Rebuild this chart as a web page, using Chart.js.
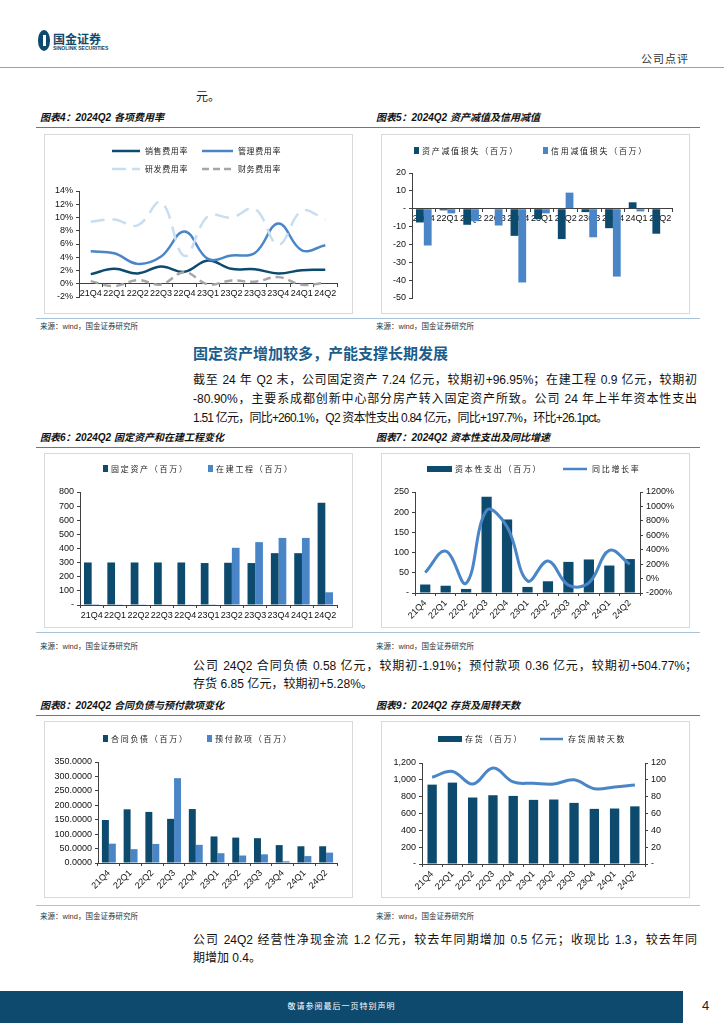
<!DOCTYPE html>
<html>
<head>
<meta charset="utf-8">
<script src="https://cdn.jsdelivr.net/npm/chart.js@4.4.1/dist/chart.umd.min.js"></script>
<style>
  body { margin: 0; background: #fff; }
  #page { position: relative; width: 724px; height: 1024px; overflow: hidden;
          font-family: "Liberation Sans", "Noto Sans CJK SC", sans-serif; color: #222; }
  .abs { position: absolute; white-space: nowrap; }
  .figtitle { font-size: 10px; line-height: 14px; font-weight: bold; font-style: italic; color: #111; }
  .src { font-size: 7.5px; line-height: 10px; color: #333; }
  .rule { position: absolute; height: 0; }
  .frame { position: absolute; border: 1px solid #d9d9d9; box-sizing: border-box; }
  .frame canvas { position: absolute; left: -1px; top: -1px; }
  .pl { position: absolute; left: 193px; width: 504px; font-size: 12px; line-height: 16px;
        white-space: nowrap; color: #111; }
  .just { text-align: justify; text-align-last: justify; }
  .leg { position: absolute; font-size: 8px; line-height: 10px; color: #222; white-space: nowrap;
         font-family: "Noto Sans CJK SC", sans-serif; }
</style>
</head>
<body>
<div id="page">
  <!-- header -->
  <div class="abs" style="left:38px;top:30px;width:12px;height:21px;border-radius:6px/10px;background:#0d4a6e;"></div>
  <div class="abs" style="left:43px;top:35px;width:3px;height:11px;background:#fff;"></div>
  <div class="abs" style="left:53px;top:32px;font-size:12px;line-height:13px;font-weight:bold;color:#0d4a6e;font-family:'Noto Sans CJK SC';">国金证券</div>
  <div class="abs" style="left:53px;top:46px;font-size:5px;line-height:5px;font-weight:bold;color:#0d4a6e;">SINOLINK SECURITIES</div>
  <div class="abs" style="left:641px;top:51px;font-size:11px;line-height:14px;color:#333;font-family:'Noto Sans CJK SC';letter-spacing:1px;">公司点评</div>
  <div class="rule" style="left:0;top:67px;width:724px;border-top:1px solid #8aa6bc;"></div>

  <div class="abs" style="left:196px;top:89px;font-size:12px;line-height:14px;font-family:'Noto Sans CJK SC';">元。</div>

  <!-- row 1 -->
  <div class="abs figtitle" style="left:40px;top:111px;">图表4：2024Q2 各项费用率</div>
  <div class="abs figtitle" style="left:376px;top:111px;">图表5：2024Q2 资产减值及信用减值</div>
  <div class="rule" style="left:36px;top:127px;width:664px;border-top:1.5px solid #4f7fa6;"></div>
  <div class="frame" style="left:44px;top:134px;width:309px;height:180px;"><canvas id="c4" width="309" height="180"></canvas></div>
  <div class="frame" style="left:381px;top:134px;width:309px;height:180px;"><canvas id="c5" width="309" height="180"></canvas></div>
  <div class="rule" style="left:36px;top:318px;width:664px;border-top:1px solid #a9c4d8;"></div>
  <div class="abs src" style="left:40px;top:322px;">来源：wind，国金证券研究所</div>
  <div class="abs src" style="left:376px;top:322px;">来源：wind，国金证券研究所</div>

  <div class="abs" style="left:193px;top:344px;font-size:15px;line-height:18px;font-weight:bold;color:#1b5c8a;font-family:'Noto Sans CJK SC';">固定资产增加较多，产能支撑长期发展</div>
  <div class="pl just" style="top:372px;">截至 24 年 Q2 末，公司固定资产 7.24 亿元，较期初+96.95%；在建工程 0.9 亿元，较期初</div>
  <div class="pl just" style="top:391px;">-80.90%，主要系成都创新中心部分房产转入固定资产所致。公司 24 年上半年资本性支出</div>
  <div class="pl" style="top:410px;width:auto;" data-fit="414">1.51 亿元，同比+260.1%，Q2 资本性支出 0.84 亿元，同比+197.7%，环比+26.1pct。</div>

  <!-- row 2 -->
  <div class="abs figtitle" style="left:40px;top:431px;">图表6：2024Q2 固定资产和在建工程变化</div>
  <div class="abs figtitle" style="left:376px;top:431px;">图表7：2024Q2 资本性支出及同比增速</div>
  <div class="rule" style="left:36px;top:447px;width:664px;border-top:1.5px solid #4f7fa6;"></div>
  <div class="frame" style="left:44px;top:453px;width:309px;height:175px;"><canvas id="c6" width="309" height="175"></canvas></div>
  <div class="frame" style="left:381px;top:453px;width:309px;height:175px;"><canvas id="c7" width="309" height="175"></canvas></div>
  <div class="rule" style="left:36px;top:632px;width:664px;border-top:1px solid #a9c4d8;"></div>
  <div class="abs src" style="left:40px;top:642px;">来源：wind，国金证券研究所</div>
  <div class="abs src" style="left:376px;top:642px;">来源：wind，国金证券研究所</div>

  <div class="pl just" style="top:658px;">公司 24Q2 合同负债 0.58 亿元，较期初-1.91%；预付款项 0.36 亿元，较期初+504.77%；</div>
  <div class="pl" style="top:676px;width:auto;" data-fit="180">存货 6.85 亿元，较期初+5.28%。</div>

  <!-- row 3 -->
  <div class="abs figtitle" style="left:40px;top:699px;">图表8：2024Q2 合同负债与预付款项变化</div>
  <div class="abs figtitle" style="left:376px;top:699px;">图表9：2024Q2 存货及周转天数</div>
  <div class="rule" style="left:36px;top:715px;width:664px;border-top:1.5px solid #4f7fa6;"></div>
  <div class="frame" style="left:44px;top:721px;width:309px;height:177px;"><canvas id="c8" width="309" height="177"></canvas></div>
  <div class="frame" style="left:381px;top:721px;width:309px;height:177px;"><canvas id="c9" width="309" height="177"></canvas></div>
  <div class="rule" style="left:36px;top:905px;width:664px;border-top:1px solid #a9c4d8;"></div>
  <div class="abs src" style="left:40px;top:912px;">来源：wind，国金证券研究所</div>
  <div class="abs src" style="left:376px;top:912px;">来源：wind，国金证券研究所</div>

  <div class="pl just" style="top:932px;">公司 24Q2 经营性净现金流 1.2 亿元，较去年同期增加 0.5 亿元；收现比 1.3，较去年同</div>
  <div class="pl" style="top:950px;">期增加 0.4。</div>

  <!-- footer -->
  <div class="abs" style="left:0;top:991px;width:683px;height:32px;background:#0d4a6e;"></div>
  <div class="abs" style="left:0;top:1001px;width:683px;text-align:center;font-size:8px;line-height:10px;color:#fff;font-family:'Noto Sans CJK SC';letter-spacing:1px;">敬请参阅最后一页特别声明</div>
  <div class="abs" style="left:702px;top:998px;font-size:13px;line-height:15px;color:#222;">4</div>

  <div id="legends"></div>
</div>

<script>
// 数据
const quarters = ['21Q4', '22Q1', '22Q2', '22Q3', '22Q4', '23Q1', '23Q2', '23Q3', '23Q4', '24Q1', '24Q2'];

// 图表4 各项费用率 (%)
const sellRate = [1.45, 2.25, 1.55, 2.6, 1.8, 3.5, 2.25, 2.2, 1.55, 2.05, 2.1];
const mgmtRate = [4.9, 4.6, 3.0, 4.1, 7.9, 3.75, 4.25, 4.65, 9.1, 5.05, 5.8];
const rdRate   = [9.35, 9.7, 8.8, 12.3, 4.2, 10.2, 10.0, 11.3, 5.9, 11.0, 9.7];
const finRate  = [0.4, -0.35, 0.55, -0.1, 1.75, -0.1, 0.5, 0.3, 1.0, -0.15, 0.15];

// 图表5 资产减值 / 信用减值 (百万)
const assetImpair  = [-7.7, -0.9, -9.0, 0, -15.2, -5.8, -17.0, -1.9, -10.9, 3.6, -14.0];
const creditImpair = [-20.6, -2.6, -7.0, -9.4, -41.3, -2.6, 9.0, -16.0, -38.0, -1.5, 0.3];

// 图表6 固定资产 / 在建工程 (百万)
const fixedAssets = [301, 301, 301, 301, 301, 297, 299, 297, 367, 367, 724];
const constructionInProgress = [1, 2, 2, 3, 3, 5, 405, 445, 475, 475, 90];

// 图表7 资本性支出 (百万) / 同比增长率 (%)
const capex    = [21, 18, 10, 238, 182, 15, 29, 77, 83, 68, 84];
const capexYoy = [83, 380, -64, 945, 720, -32, 243, -90, -60, 390, 197.7];

// 图表8 合同负债 / 预付款项 (百万)
const contractLiab = [149, 186, 177, 153, 187, 92, 88, 86, 62, 58, 58];
const prepayments  = [67, 48, 66, 294, 63, 34, 26, 30, 6, 24, 36];

// 图表9 存货 (百万) / 存货周转天数
const inventory = [943, 967, 790, 817, 809, 762, 766, 726, 655, 659, 685];
const inventoryDays = [103, 110, 95, 114, 97.5, 96, 95, 100, 89.5, 91.5, 94];

const DARK = '#0c4a6e';
const MID = '#4a86c7';
const PALE = '#c7ddf1';
const GRAY = '#a6a6a6';
const AXIS = '#404040';
const tickFont = { family: '"Liberation Sans", Arial, sans-serif', size: 9 };

Chart.defaults.animation = false;
Chart.defaults.responsive = false;
Chart.defaults.color = '#111';

const fixW = w => scale => { scale.width = w; };
const fixH = h => scale => { scale.height = h; };
const dashZero = v => (v === 0 ? '-' : v);

function yAxis(min, max, step, cb, width, extra) {
    return Object.assign({
        min: min, max: max,
        ticks: { stepSize: step, callback: cb, font: tickFont, padding: 3, autoSkip: false },
        grid: { drawOnChartArea: false, tickLength: 3, color: AXIS },
        border: { color: AXIS },
        afterFit: fixW(width)
    }, extra || {});
}

function xAxis(extra, tickExtra) {
    return Object.assign({
        offset: true,
        grid: { offset: true, drawOnChartArea: false, tickLength: 3, color: AXIS },
        border: { color: AXIS },
        ticks: Object.assign({ font: tickFont, autoSkip: false, maxRotation: 0, minRotation: 0, padding: 2 }, tickExtra || {})
    }, extra || {});
}

const basePlugins = { legend: { display: false }, tooltip: { enabled: false } };

// 图表4
new Chart(document.getElementById('c4'), {
    type: 'line',
    data: {
        labels: quarters,
        datasets: [
            { label: '销售费用率', data: sellRate, borderColor: DARK, borderWidth: 2.5, order: 4 },
            { label: '管理费用率', data: mgmtRate, borderColor: MID, borderWidth: 2.5, order: 3 },
            { label: '研发费用率', data: rdRate, borderColor: PALE, borderWidth: 2.5, borderDash: [14, 8], order: 2 },
            { label: '财务费用率', data: finRate, borderColor: GRAY, borderWidth: 2.5, borderDash: [8, 5], order: 1 }
        ]
    },
    options: {
        elements: { point: { radius: 0 }, line: { tension: 0.4 } },
        layout: { padding: { top: 57, right: 16, bottom: 17, left: 0 } },
        plugins: basePlugins,
        scales: {
            x: xAxis({ position: { y: 0 } }, { padding: 1 }),
            y: yAxis(-2, 14, 2, v => v + '%', 35)
        }
    }
});

// 图表5
new Chart(document.getElementById('c5'), {
    type: 'bar',
    data: {
        labels: quarters,
        datasets: [
            { label: '资产减值损失（百万）', data: assetImpair, backgroundColor: DARK },
            { label: '信用减值损失（百万）', data: creditImpair, backgroundColor: MID }
        ]
    },
    options: {
        categoryPercentage: 0.66, barPercentage: 1,
        layout: { padding: { top: 39, right: 18, bottom: 16, left: 0 } },
        plugins: basePlugins,
        scales: {
            x: xAxis({ position: { y: 0 } }, { padding: 1 }),
            y: yAxis(-50, 20, 10, dashZero, 31)
        }
    }
});

// 图表6
new Chart(document.getElementById('c6'), {
    type: 'bar',
    data: {
        labels: quarters,
        datasets: [
            { label: '固定资产（百万）', data: fixedAssets, backgroundColor: DARK },
            { label: '在建工程（百万）', data: constructionInProgress, backgroundColor: MID }
        ]
    },
    options: {
        categoryPercentage: 0.66, barPercentage: 1,
        layout: { padding: { top: 39, right: 16, bottom: 0, left: 0 } },
        plugins: basePlugins,
        scales: {
            x: xAxis({ afterFit: fixH(23) }),
            y: yAxis(0, 800, 100, dashZero, 36)
        }
    }
});

// 图表7
new Chart(document.getElementById('c7'), {
    type: 'bar',
    data: {
        labels: quarters,
        datasets: [
            { type: 'line', label: '同比增长率', data: capexYoy, yAxisID: 'y1', borderColor: MID, borderWidth: 3,
              pointRadius: 0, tension: 0.4, order: 0 },
            { label: '资本性支出（百万）', data: capex, backgroundColor: DARK, yAxisID: 'y', order: 1 }
        ]
    },
    options: {
        categoryPercentage: 0.5, barPercentage: 1,
        layout: { padding: { top: 39, right: 10, bottom: 0, left: 0 } },
        plugins: basePlugins,
        scales: {
            x: xAxis({ afterFit: fixH(35) }, { maxRotation: 45, minRotation: 45 }),
            y: yAxis(0, 250, 50, dashZero, 34),
            y1: yAxis(-200, 1200, 200, v => v + '%', 40, { position: 'right' })
        }
    }
});

// 图表8
new Chart(document.getElementById('c8'), {
    type: 'bar',
    data: {
        labels: quarters,
        datasets: [
            { label: '合同负债（百万）', data: contractLiab, backgroundColor: DARK },
            { label: '预付款项（百万）', data: prepayments, backgroundColor: MID }
        ]
    },
    options: {
        categoryPercentage: 0.64, barPercentage: 1,
        layout: { padding: { top: 41, right: 16, bottom: 0, left: 0 } },
        plugins: basePlugins,
        scales: {
            x: xAxis({ afterFit: fixH(35) }, { maxRotation: 45, minRotation: 45 }),
            y: yAxis(0, 350, 50, v => v.toFixed(4), 54)
        }
    }
});

// 图表9
new Chart(document.getElementById('c9'), {
    type: 'bar',
    data: {
        labels: quarters,
        datasets: [
            { type: 'line', label: '存货周转天数', data: inventoryDays, yAxisID: 'y1', borderColor: MID, borderWidth: 3,
              pointRadius: 0, tension: 0.4, order: 0 },
            { label: '存货（百万）', data: inventory, backgroundColor: DARK, yAxisID: 'y', order: 1 }
        ]
    },
    options: {
        categoryPercentage: 0.46, barPercentage: 1,
        layout: { padding: { top: 42, right: 20, bottom: 0, left: 0 } },
        plugins: basePlugins,
        scales: {
            x: xAxis({ afterFit: fixH(34) }, { maxRotation: 45, minRotation: 45 }),
            y: yAxis(0, 1200, 200, v => (v === 0 ? '-' : v.toLocaleString('en-US')), 41),
            y1: yAxis(0, 120, 20, dashZero, 25, { position: 'right' })
        }
    }
});

// 图例 (HTML)
const legendHost = document.getElementById('legends');
function addLegend(x, cy, kind, color, text, opts) {
    opts = opts || {};
    const wrap = document.createElement('div');
    wrap.className = 'leg';
    wrap.style.left = x + 'px';
    wrap.style.top = (cy - 5) + 'px';
    wrap.style.letterSpacing = (opts.ls != null ? opts.ls : 1.7) + 'px';
    let sw;
    if (kind === 'square') {
        sw = '<span style="display:inline-block;width:5px;height:7px;background:' + color + ';vertical-align:middle;margin:-2px 3px 0 0"></span>';
    } else if (kind === 'rect') {
        sw = '<span style="display:inline-block;width:' + opts.w + 'px;height:6px;background:' + color + ';vertical-align:middle;margin:-2px 3px 0 0"></span>';
    } else {
        const dash = opts.dash ? ' stroke-dasharray="' + opts.dash + '"' : '';
        sw = '<svg width="' + opts.w + '" height="6" style="vertical-align:middle;margin:-2px 5px 0 0"><line x1="0" y1="3" x2="' + opts.w +
             '" y2="3" stroke="' + color + '" stroke-width="2.5"' + dash + '/></svg>';
    }
    wrap.innerHTML = sw + text;
    legendHost.appendChild(wrap);
}

addLegend(112, 151, 'line', DARK, '销售费用率', { w: 28, ls: 0.6 });
addLegend(202, 151, 'line', MID, '管理费用率', { w: 31, ls: 0.6 });
addLegend(112, 169, 'line', PALE, '研发费用率', { w: 28, ls: 0.6, dash: '14 6' });
addLegend(202, 169, 'line', GRAY, '财务费用率', { w: 31, ls: 0.6, dash: '7 4' });

addLegend(414, 151, 'square', DARK, '资产减值损失（百万）');
addLegend(543, 151, 'square', MID, '信用减值损失（百万）');

addLegend(103, 469, 'square', DARK, '固定资产（百万）');
addLegend(208, 469, 'square', MID, '在建工程（百万）');

addLegend(427, 469, 'rect', DARK, '资本性支出（百万）', { w: 25 });
addLegend(563, 469, 'line', MID, '同比增长率', { w: 24 });

addLegend(103, 739, 'square', DARK, '合同负债（百万）');
addLegend(207, 739, 'square', MID, '预付款项（百万）');

addLegend(438, 739, 'rect', DARK, '存货（百万）', { w: 24 });
addLegend(540, 739, 'line', MID, '存货周转天数', { w: 23 });

// 非两端对齐的正文行按原图宽度微调字距
document.querySelectorAll('[data-fit]').forEach(function(el) {
    const target = parseFloat(el.dataset.fit);
    const natural = el.getBoundingClientRect().width;
    const n = el.textContent.length;
    el.style.letterSpacing = ((target - natural) / n).toFixed(2) + 'px';
});
</script>
</body>
</html>
